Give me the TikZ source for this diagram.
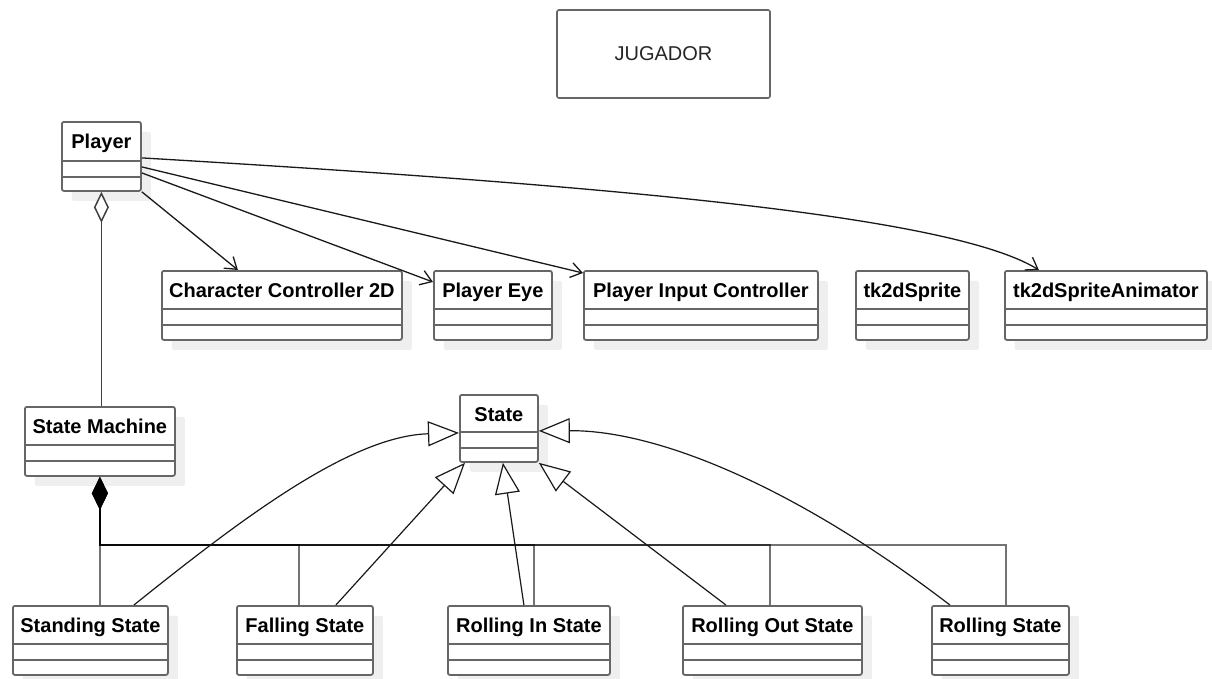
\documentclass[tikz,border=0pt]{standalone}
\usepackage{fontspec}
\setmainfont{Liberation Sans}
\usetikzlibrary{arrows.meta,shadows}

\definecolor{border}{HTML}{666666}
\definecolor{shade}{HTML}{EFEFEF}

\tikzset{
  cls/.style={draw=border, line width=1.8pt, rounded corners=2pt, fill=white, inner sep=0pt,
    drop shadow={shadow xshift=10pt, shadow yshift=-10pt, fill=shade, opacity=1}},
  clsname/.style={font=\fontsize{20}{24}\selectfont\bfseries, inner sep=0pt, anchor=base},
  divider/.style={draw=border, line width=1.8pt},
  titlebox/.style={draw=border, line width=1.6pt, rounded corners=2pt, inner sep=0pt,
    font=\fontsize{20}{24}\selectfont, text=black!85},
  assoc/.style={draw=black!90, line width=1.3pt, -{Straight Barb[length=11pt,width=15pt]}},
  gen/.style={draw=black!90, line width=1.2pt, -{Triangle[open,fill=white,length=31pt,width=25pt]}},
  agg/.style={draw=black!75, line width=1.5pt, {Diamond[open,fill=white,length=31pt,width=15pt]}-},
  comp/.style={draw=black, draw opacity=.55, line width=1.7pt, {Diamond[length=33pt,width=16pt]}-}
}

% name, left, top, width, height, label, header height
\newcommand\umlclass[7]{%
  \node[cls, minimum width=#4pt, minimum height=#5pt, anchor=north west] (#1) at (#2,#3) {};
  \draw[divider] ([yshift=-#7pt]#1.north west) -- ([yshift=-#7pt]#1.north east);
  \draw[divider] ([yshift=-#7pt-16pt]#1.north west) -- ([yshift=-#7pt-16pt]#1.north east);
  \node[clsname] (#1-label) at ([yshift=-27pt]#1.north) {#6};
}

\begin{document}
\begin{tikzpicture}[x=1pt, y=-1pt]
  \fill[white] (0,0) rectangle (1212,678);
  \useasboundingbox (0,0) rectangle (1212,678);

  \node[titlebox, minimum width=213pt, minimum height=88pt] (jug) at (663.5,54) {JUGADOR};

  \umlclass{pl}{61}{121}{79}{69}{Player}{40}
  \umlclass{cc}{161}{270}{240}{69}{Character Controller 2D}{39}
  \umlclass{eye}{433}{270}{118}{69}{Player Eye}{39}
  \umlclass{pic}{583}{270}{234}{69}{Player Input Controller}{39}
  \umlclass{spr}{855}{270}{113}{69}{tk2dSprite}{39}
  \umlclass{ani}{1004}{270}{202}{69}{tk2dSpriteAnimator}{39}
  \umlclass{sm}{24}{406}{150}{69}{State Machine}{39}
  \umlclass{st}{459}{394}{78}{67}{State}{38}
  \umlclass{ss}{12}{605}{155}{69}{Standing State}{39}
  \umlclass{fs}{236}{605}{136}{69}{Falling State}{39}
  \umlclass{ri}{447}{605}{162}{69}{Rolling In State}{39}
  \umlclass{ro}{682}{605}{179}{69}{Rolling Out State}{39}
  \umlclass{rs}{931}{605}{137}{69}{Rolling State}{39}

  % associations from Player
  \draw[assoc] (pl.south east) -- ([xshift=-44pt]cc.north);
  \draw[assoc] ([yshift=-16.5pt]pl.east) -- ([yshift=-12pt]eye.north west);
  \draw[assoc] ([yshift=-10.5pt]pl.east) -- ([yshift=-3pt]pic.north west);
  \draw[assoc] ([yshift=-1.5pt]pl.east) .. controls (600,185) and (950,215) .. ([xshift=-67pt]ani.north);

  % aggregation Player - State Machine
  \draw[agg] (pl.south) -- (pl.south |- sm.north);

  % composition State Machine - states
  \draw[comp] (sm.south) -- (sm.south |- ss.north);
  \draw[comp] (sm.south) -- ([yshift=-68pt]sm.south) -| ([xshift=-6pt]fs.north);
  \draw[comp] (sm.south) -- ([yshift=-68pt]sm.south) -| ([xshift=5pt]ri.north);
  \draw[comp] (sm.south) -- ([yshift=-68pt]sm.south) -| ([xshift=-2.5pt]ro.north);
  \draw[comp] (sm.south) -- ([yshift=-68pt]sm.south) -| ([xshift=5.5pt]rs.north);

  % generalizations to State
  \draw[gen] ([xshift=43.5pt]ss.north) .. controls (240,520) and (350,436) .. ([yshift=-4.5pt]st.west);
  \draw[gen] ([xshift=31pt]fs.north) -- ([xshift=6pt]st.south west);
  \draw[gen] ([xshift=-5pt]ri.north) -- ([xshift=4pt]st.south);
  \draw[gen] ([xshift=-46.5pt]ro.north) -- (st.south east);
  \draw[gen] ([xshift=-50.5pt]rs.north) .. controls (800,490) and (660,430) .. ([yshift=-2.5pt]st.east);
\end{tikzpicture}
\end{document}
